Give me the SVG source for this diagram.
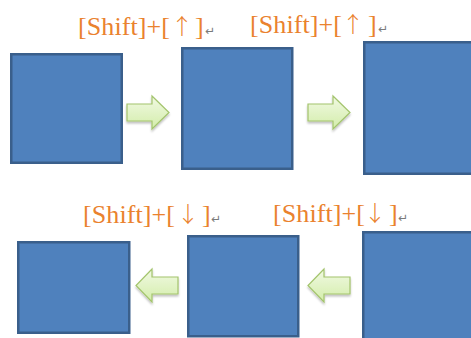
<svg xmlns="http://www.w3.org/2000/svg" width="471" height="338" viewBox="0 0 471 338">
<style>
.box{fill:#4F81BD;stroke:#3A5F8B;stroke-width:2.5}
.arr{fill:url(#g);stroke:#A3C46C;stroke-width:1.2;stroke-linejoin:miter}
.lbl{font-family:"Liberation Serif","Noto Sans CJK JP",serif;font-size:26px;fill:#EA822E}
.ar{font-family:"Noto Sans CJK JP",sans-serif;font-weight:300;font-size:22px;fill:#EA822E;text-anchor:middle}
.ret{font-family:"DejaVu Sans",sans-serif;font-size:12px;fill:#7A7A7A}
</style>
<defs>
<linearGradient id="g" x1="0" y1="0" x2="0" y2="1">
<stop offset="0" stop-color="#F1F9E3"/>
<stop offset="1" stop-color="#D3EDAA"/>
</linearGradient>
<filter id="sh" x="-20%" y="-20%" width="140%" height="150%">
<feGaussianBlur in="SourceAlpha" stdDeviation="1.2"/>
<feOffset dx="0" dy="1.5" result="b"/>
<feComponentTransfer><feFuncA type="linear" slope="0.25"/></feComponentTransfer>
<feMerge><feMergeNode/><feMergeNode in="SourceGraphic"/></feMerge>
</filter>
</defs>
<g id="box1"><rect class="box" x="11.25" y="54.25" width="110.5" height="108.5"/></g>
<g id="box2"><rect class="box" x="182.25" y="48.25" width="110" height="120.5"/></g>
<g id="box3"><rect class="box" x="364.25" y="42.25" width="120" height="131.5"/></g>
<g id="box4"><rect class="box" x="18.25" y="242.25" width="111" height="90.5"/></g>
<g id="box5"><rect class="box" x="188.25" y="236.25" width="110" height="100"/></g>
<g id="box6"><rect class="box" x="363.25" y="232.25" width="120" height="120"/></g>
<g id="connectors" filter="url(#sh)">
<polygon class="arr" points="127,104 152,104 152,96 169,112.5 152,129 152,121 127,121"/>
<polygon class="arr" points="308,104 333,104 333,96 350,112.5 333,129 333,121 308,121"/>
<polygon class="arr" points="178,277 152,277 152,269 136,285.5 152,302 152,294 178,294"/>
<polygon class="arr" points="350,277 324,277 324,269 308,285.5 324,302 324,294 350,294"/>
</g>
<g id="labels">
<text class="lbl" x="78" y="35" textLength="92" lengthAdjust="spacing">[Shift]+[</text>
<text class="ar" x="182" y="34">↑</text>
<text class="lbl" x="195" y="35">]</text>
<text class="ret" x="205" y="35">↵</text>

<text class="lbl" x="250" y="33" textLength="92" lengthAdjust="spacing">[Shift]+[</text>
<text class="ar" x="353" y="32">↑</text>
<text class="lbl" x="368" y="33">]</text>
<text class="ret" x="378" y="33">↵</text>

<text class="lbl" x="83" y="223" textLength="92" lengthAdjust="spacing">[Shift]+[</text>
<text class="ar" x="188" y="222">↓</text>
<text class="lbl" x="202" y="223">]</text>
<text class="ret" x="211" y="223">↵</text>

<text class="lbl" x="273" y="222" textLength="92" lengthAdjust="spacing">[Shift]+[</text>
<text class="ar" x="375" y="221">↓</text>
<text class="lbl" x="389" y="222">]</text>
<text class="ret" x="398" y="222">↵</text>
</g>
</svg>
